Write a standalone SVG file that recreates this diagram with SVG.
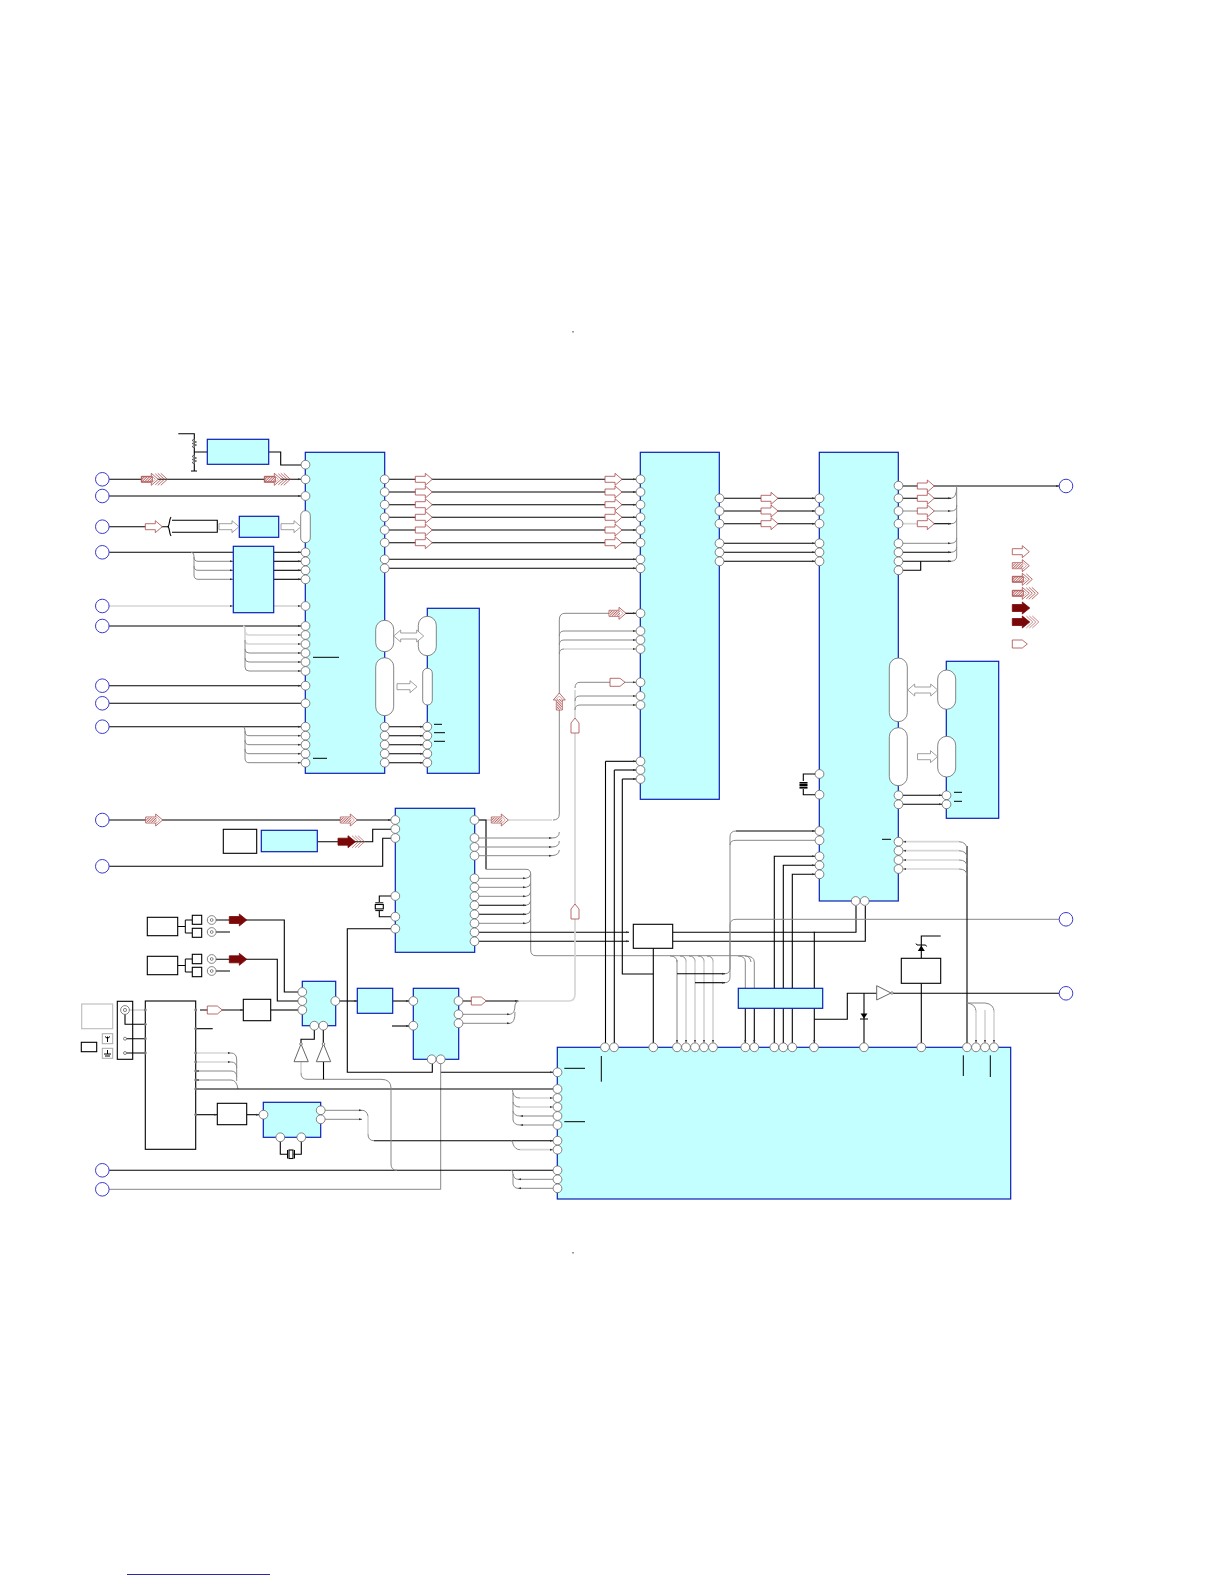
<svg xmlns="http://www.w3.org/2000/svg" width="1224" height="1584" viewBox="0 0 1224 1584">
<style>
.c{fill:#c4ffff;stroke:#0a1eb4;stroke-width:1.2}
.w{fill:#fff;stroke:#000;stroke-width:1.1}
.p{fill:#fff;stroke:#666;stroke-width:.8}
.o{fill:#fff;stroke:#3a3ad0;stroke-width:1}
.cap{fill:#fff;stroke:#666;stroke-width:.8}
.k,.g,.l{fill:none}
.k{stroke:#000;stroke-width:1.1}
.g{stroke:#888;stroke-width:1}
.l{stroke:#d6d6d6;stroke-width:1.7}
.b{stroke:#000;stroke-width:1;fill:none}
.m{marker-end:url(#t)}
.d{fill:#777}
text{font-family:"Liberation Sans",sans-serif}
</style>
<defs>
<marker id="t" markerWidth="3" markerHeight="3" refX="3" refY="1.5" orient="auto" markerUnits="userSpaceOnUse"><path d="M0 .5L3 1.5 0 2.5Z" fill="#333"/></marker>
<pattern id="h" width="1.8" height="1.8" patternUnits="userSpaceOnUse" patternTransform="rotate(45)"><rect width="1.8" height="1.8" fill="#fff"/><rect width=".9" height="1.8" fill="#b86a6a"/></pattern>
<path id="A" d="M0-3H10V-6L17 0 10 6V3H0Z" fill="#fff" stroke="#a84848" stroke-width=".8"/>
<path id="G" d="M0-3H13V-6L20 0 13 6V3H0Z" fill="#fff" stroke="#888" stroke-width=".8"/>
<path id="GD" d="M0 0L7-6V-3H23V-6L30 0 23 6V3H7V6Z" fill="#fff" stroke="#888" stroke-width=".8"/>
<g id="B"><use href="#A"/><rect x=".5" y="-2.5" width="10.5" height="5" fill="url(#h)"/><path d="M10.5-3.5L14 0 10.5 3.5" fill="none" stroke="#c08080" stroke-width=".7"/></g>
<g id="C" fill="none" stroke="#a84848" stroke-width=".8"><use href="#B"/><path d="M14-5.5L20 0 14 5.5"/></g>
<g id="D" fill="none" stroke="#a84848" stroke-width=".8"><use href="#B"/><path d="M14-5.5L20 0 14 5.5"/><path d="M16.5-6L23 0 16.5 6"/><path d="M19.5-6L26 0 19.5 6"/></g>
<path id="F" d="M0-3.5H10V-6L17.5 0 10 6V3.5H0Z" fill="#7a0808" stroke="#7a0808" stroke-width=".8"/>
<g id="E" fill="none" stroke="#b05858" stroke-width=".7"><use href="#F"/><path d="M14-6L20.5 0 14 6"/><path d="M17-6L23.5 0 17 6"/><path d="M20-6L26.5 0 20 6"/></g>
<path id="T" d="M0-4H10L15 0 10 4H0Z" fill="#fff" stroke="#a84848" stroke-width=".8"/>
</defs>

<g id="connectors">
<path class="k m" d="M109 479.3H301"/>
<path class="k m" d="M109 496H301"/>
<path class="k" d="M109 526.7H169"/>
<path class="k" d="M109 552.3H233"/>
<path class="g m" d="M191 552.3Q194 552.3 194 556V557Q194 561.3 198 561.3H233"/>
<path class="g m" d="M194 557V566Q194 570.3 198 570.3H233"/>
<path class="g m" d="M194 566V575Q194 579.3 198 579.3H233"/>
<path class="k m" d="M273.7 552.3H301"/><path class="k m" d="M273.7 561.3H301"/><path class="k m" d="M273.7 570.3H301"/><path class="k m" d="M273.7 579.3H301"/>
<path class="l m" d="M109 606H233"/><path class="l m" d="M273.7 606H301"/>
<path class="k m" d="M109 626H301"/>
<path class="l m" d="M243 626Q245 626 245 630Q245 635 249 635H301"/>
<path class="l m" d="M245 630V640Q245 644 249 644H301"/>
<path class="g m" d="M245 640V649Q245 653 249 653H301"/>
<path class="g m" d="M245 649V658Q245 662 249 662H301"/>
<path class="g m" d="M245 658V667Q245 671 249 671H301"/>
<path class="k m" d="M109 685.7H301"/>
<path class="k" d="M109 703.3H301"/>
<path class="k m" d="M109 726.7H301"/>
<path class="g m" d="M243 726.7Q245 726.7 245 731Q245 735.7 249 735.7H301"/>
<path class="g m" d="M245 731V740Q245 744.7 249 744.7H301"/>
<path class="g m" d="M245 740V749Q245 753.7 249 753.7H301"/>
<path class="g m" d="M245 749V758Q245 762.7 249 762.7H301"/>
<path class="k" d="M178.3 433.7H194.3V471M191 471H197M194.3 452H207.3M268.7 452H280.7V465H301"/>
<path class="k m" d="M389 479.3H636"/><path class="k m" d="M389 492H636"/><path class="k m" d="M389 504.7H636"/><path class="k m" d="M389 517.3H636"/><path class="k m" d="M389 530H636"/><path class="k m" d="M389 542.7H636"/><path class="k m" d="M389 559.3H636"/><path class="k m" d="M389 568.3H636"/>
<path class="k m" d="M389 726.7H423"/><path class="k m" d="M389 735.7H423"/><path class="k m" d="M389 744.7H423"/><path class="k m" d="M389 753.7H423"/><path class="k m" d="M389 762.7H423"/>
<path class="k m" d="M724 498.3H815"/><path class="k m" d="M724 511H815"/><path class="k m" d="M724 523.7H815"/><path class="k m" d="M724 543.3H815"/><path class="k m" d="M724 552.3H815"/><path class="k m" d="M724 561.3H815"/>
<path class="k m" d="M903 486H1059"/>
<path class="k m" d="M903 498.3H951"/><path class="g" d="M951 498.3Q956.7 498 956.7 486"/>
<path class="g m" d="M903 511H951"/><path class="g" d="M951 511Q956.7 511 956.7 506V488"/>
<path class="l" d="M903 523.7H925"/><path class="k m" d="M925 523.7H951"/><path class="g" d="M951 523.7Q956.7 523.7 956.7 518V505"/>
<path class="g m" d="M903 543.3H951"/><path class="g" d="M951 543.3Q956.7 543 956.7 538V518"/>
<path class="k m" d="M903 552.3H951"/><path class="g" d="M951 552.3Q956.7 552 956.7 547V538"/>
<path class="k m" d="M903 561.3H951"/><path class="g" d="M951 561.3Q956.7 561 956.7 556V547"/>
<path class="k" d="M903 570.3H920.7V561.3"/>
<path class="k m" d="M903 795.3H942"/><path class="k m" d="M903 804.3H942"/>
<path class="k m" d="M109 820H391"/>
<path class="k" d="M317.3 841.7H372.7V829.3H391"/>
<path class="k" d="M109 866.3H382.7V838.3H391"/>
<path class="k" d="M391 896H379.3V902M379.3 911V916.7H391"/>
<path class="k" d="M391 928.7H347.3V1072.3H432.3V1064"/>
<path class="k m" d="M440.7 1072.3H553"/>
<path class="g" d="M440.7 1189.3H109"/>
<path class="g" d="M440.7 1063V1189.3"/>
<path class="l" d="M479 820H552"/>
<path class="k" d="M479 820H486V869.3"/>
<path class="g" d="M553 820Q559.3 820 559.3 814V620Q559.3 613.3 565 613.3H620"/>
<path class="k m" d="M620 613.3H636"/>
<path class="g m" d="M559.3 636Q559.3 631 564 631H636"/><path class="g m" d="M559.3 645Q559.3 640 564 640H636"/>
<path class="g" d="M559.3 654Q559.3 649 564 649"/><path class="l m" d="M564 649H636"/>
<path class="g m" d="M479 838H552"/><path class="g" d="M552 838Q559.3 838 559.3 832"/>
<path class="g m" d="M479 847H552"/><path class="g" d="M552 847Q559.3 847 559.3 841"/>
<path class="g m" d="M479 855.7H552"/><path class="g" d="M552 855.7Q559.3 855 559.3 850"/>
<path class="g" d="M486 869.3H526Q530.7 869.3 530.7 874V950Q530.7 955.7 536 955.7H744Q750 955.7 751 962"/>
<path class="g m" d="M479 878.3H526"/><path class="g" d="M526 878.3Q530 878 530.7 874"/>
<path class="g m" d="M479 887.3H526"/><path class="g" d="M526 887.3Q530 887 530.7 883"/>
<path class="g m" d="M479 896.3H526"/><path class="g" d="M526 896.3Q530 896 530.7 892"/>
<path class="k m" d="M479 905.3H526"/><path class="g" d="M526 905.3Q530 905 530.7 901"/>
<path class="k m" d="M479 914.3H526"/><path class="g" d="M526 914.3Q530 914 530.7 910"/>
<path class="g m" d="M479 923.3H526"/><path class="g" d="M526 923.3Q530 923 530.7 919"/>
<path class="k m" d="M479 932.3H629"/>
<path class="k m" d="M479 941.3H629"/>
<path class="k" d="M672.7 932.3H856V906"/>
<path class="k" d="M672.7 941.3H865.3V906"/>
<path class="k m" d="M605.5 761.3H636"/><path class="k" d="M605.5 761.3V1043"/>
<path class="k m" d="M614.3 770H636"/><path class="k" d="M614.3 770V1043"/>
<path class="k m" d="M622.3 779H636"/><path class="k" d="M622.3 779V974H653.3"/>
<path class="k" d="M653.3 948.3V1043"/>
<path class="g" d="M670 956Q677 956 677 962"/><path class="g m" d="M677 960V1043"/>
<path class="g" d="M680 956Q686 956 686 962"/><path class="l m" d="M686 960V1043"/>
<path class="g" d="M689 956Q695 956 695 962"/><path class="l m" d="M695 960V1043"/>
<path class="g" d="M698 956Q704 956 704 962"/><path class="l m" d="M704 960V1043"/>
<path class="g" d="M707 956Q713 956 713 962"/><path class="l m" d="M713 960V1043"/>
<path class="g" d="M738 956Q745.3 956 745.3 962V988"/>
<path class="g" d="M745 956Q754.3 956 754.3 962V988"/>
<path class="k m" d="M745.3 1008V1043"/><path class="k m" d="M754.3 1008V1043"/>
<path class="k m" d="M774.3 1043V856.3H815"/>
<path class="k m" d="M783.3 1043V865.3H815"/>
<path class="k m" d="M792.3 1043V874.3H815"/>
<path class="k m" d="M814.3 1008V1043"/><path class="k" d="M814.3 988V931.7"/>
<path class="g" d="M725 973.7Q730 973.7 730 968V925Q730 919.3 736 919.3H1059"/>
<path class="k m" d="M677 973.7H725"/>
<path class="k m" d="M695 982.7H725"/>
<path class="g" d="M725 982.7Q730 982.7 730 977V845Q730 840.3 736 840.3H815"/>
<path class="k m" d="M736 831H815"/><path class="g" d="M736 831Q730 831 730 837V845"/>
<path class="k" d="M814.3 1019.3H847.3V993.3H876.7"/>
<path class="k" d="M864 993.3V1043"/>
<path class="k" d="M893 993.3H1059"/>
<path class="k" d="M921.3 983.3V1043"/>
<path class="k" d="M921.3 958.3V936H940.7"/>
<path class="k" d="M967 846V1043"/>
<path class="l m" d="M959 841.7H903"/><path class="g" d="M959 841.7Q967 842 967 850"/>
<path class="l m" d="M959 850.7H903"/><path class="g" d="M959 850.7Q967 851 967 858"/>
<path class="l m" d="M959 860H903"/><path class="g" d="M959 860Q967 860 967 867"/>
<path class="l m" d="M959 869H903"/><path class="g" d="M959 869Q967 869 967 876"/>
<path class="g" d="M967 1003Q976 1004 976 1012M967 1003H985Q994 1004 994 1012"/>
<path class="l m" d="M976 1010V1043"/><path class="l m" d="M985 1010V1043"/><path class="l m" d="M994 1010V1043"/>
<path class="l" d="M518 1001H569Q575 1001 575 994"/><path class="l" d="M575 994V690"/>
<path class="g m" d="M575 688Q575 682.3 580 682.3H636"/>
<path class="g m" d="M575 701Q575 696 580 696H636"/><path class="g m" d="M575 710Q575 705 580 705H636"/>
<path class="k m" d="M463 1001H518"/>
<path class="g m" d="M463 1014.3H510"/><path class="g" d="M510 1014.3Q515 1014 515 1005Q516 1001 519 1001"/>
<path class="g m" d="M463 1023.3H510"/><path class="g" d="M510 1023.3Q515 1023 515 1012"/>
<path class="k m" d="M392 1026H409"/>
<path class="k m" d="M335.7 1001H357.3"/><path class="k m" d="M392.7 1001H409"/>
<path class="k" d="M216 920H284.3V992H298"/>
<path class="k" d="M216 959.3H277.3V1001H298"/>
<path class="k" d="M216 932H230M216 971H230"/>
<path class="b" d="M177.7 926.5H185.3M185.3 920V933M185.3 920H192.3M185.3 933H192.3M177.7 965.5H185.3M185.3 959V972M185.3 959H192.3M185.3 972H192.3"/>
<path class="k m" d="M200 1010H243.3"/>
<path class="k" d="M270.7 1010H298"/>
<path class="k" d="M195.7 1028.7H212.7"/>
<path class="l m" d="M195.7 1053H231"/><path class="g" d="M231 1053Q236.7 1053 236.7 1060V1081"/>
<path class="l m" d="M195.7 1062H231"/><path class="g" d="M231 1062Q236.7 1062 236.7 1068"/>
<path class="g m" d="M231 1071H195.7"/><path class="g" d="M231 1071Q236.7 1071 236.7 1077"/>
<path class="g m" d="M231 1080H195.7"/><path class="g" d="M231 1080Q236.7 1080 238 1089"/>
<path class="k" d="M195.7 1089H511"/>
<path class="k m" d="M195.7 1114.7H217.3"/>
<path class="k m" d="M246.7 1114.7H259"/>
<path class="g m" d="M324 1110.3H362"/><path class="g" d="M362 1110.3Q366.7 1110.3 368 1116"/>
<path class="g m" d="M324 1119.3H362"/><path class="l" d="M368 1116V1134"/><path class="g" d="M368 1134Q368 1140.7 374 1140.7"/>
<path class="k m" d="M374 1140.7H553"/>
<path class="g" d="M511 1140.7Q513 1140.7 513 1144Q515 1149.7 520 1149.7"/><path class="l m" d="M520 1149.7H553"/>
<path class="k" d="M511 1089H553"/>
<path class="l m" d="M520 1098H553"/><path class="g" d="M511 1089Q513 1089 513 1093Q514 1098 520 1098"/>
<path class="l m" d="M520 1107H553"/><path class="g" d="M513 1093V1102Q514 1107 520 1107"/>
<path class="g m" d="M553 1116H520"/><path class="g" d="M513 1102V1111Q514 1116 520 1116"/>
<path class="g m" d="M553 1125H520"/><path class="g" d="M513 1111V1120Q514 1125 520 1125"/>
<path class="k" d="M109 1170.3H553"/>
<path class="g m" d="M553 1179.3H518"/><path class="g" d="M511 1170.3Q513 1170.3 513 1174Q514 1179.3 518 1179.3"/>
<path class="g m" d="M553 1188.3H518"/><path class="g" d="M513 1174V1184Q514 1188.3 518 1188.3"/>
<path class="l" d="M301 1062V1073"/><path class="g" d="M301 1073Q301 1079.3 307 1079.3H381Q391 1079.3 391 1088V1164Q391 1170.3 397 1170.3"/>
<path class="k" d="M323.5 1062V1079.3"/>
<path class="k" d="M314.3 1030V1039.3H301V1044"/>
<path class="k" d="M323.3 1030V1044"/>
<path class="k" d="M280.3 1137.3V1154.3H287M293.5 1154.3H301.3V1137.3"/>
<path class="l" d="M125 1010H145.3"/>
<path class="k" d="M125 1013V1024.3H145.3M125 1038.7H145.3M125 1053H145.3"/>
</g>

<g id="resistors"><path d="M194.3 439L192 440.5 196.6 442 192 443.5 196.6 445 192 446.5 194.3 448M194.3 455L192 456.5 196.6 458 192 459.5 196.6 461 192 462.5 194.3 464" fill="#fff" stroke="#555" stroke-width=".9"/></g>

<g id="u1"><rect class="c" x="305.3" y="452.3" width="79.4" height="321"/>
<g id="u1-pins"><circle class="p" cx="305.5" cy="464.7" r="4.4"/><circle class="p" cx="305.5" cy="479.3" r="4.4"/><circle class="p" cx="305.5" cy="496" r="4.4"/><circle class="p" cx="305.5" cy="552.3" r="4.4"/><circle class="p" cx="305.5" cy="561.3" r="4.4"/><circle class="p" cx="305.5" cy="570.3" r="4.4"/><circle class="p" cx="305.5" cy="579.3" r="4.4"/><circle class="p" cx="305.5" cy="606" r="4.4"/><circle class="p" cx="305.5" cy="626" r="4.4"/><circle class="p" cx="305.5" cy="635" r="4.4"/><circle class="p" cx="305.5" cy="644" r="4.4"/><circle class="p" cx="305.5" cy="653" r="4.4"/><circle class="p" cx="305.5" cy="662" r="4.4"/><circle class="p" cx="305.5" cy="671" r="4.4"/><circle class="p" cx="305.5" cy="685.7" r="4.4"/><circle class="p" cx="305.5" cy="703.3" r="4.4"/><circle class="p" cx="305.5" cy="726.7" r="4.4"/><circle class="p" cx="305.5" cy="735.7" r="4.4"/><circle class="p" cx="305.5" cy="744.7" r="4.4"/><circle class="p" cx="305.5" cy="753.7" r="4.4"/><circle class="p" cx="305.5" cy="762.7" r="4.4"/>
<circle class="p" cx="384.7" cy="479.3" r="4.4"/><circle class="p" cx="384.7" cy="492" r="4.4"/><circle class="p" cx="384.7" cy="504.7" r="4.4"/><circle class="p" cx="384.7" cy="517.3" r="4.4"/><circle class="p" cx="384.7" cy="530" r="4.4"/><circle class="p" cx="384.7" cy="542.7" r="4.4"/><circle class="p" cx="384.7" cy="559.3" r="4.4"/><circle class="p" cx="384.7" cy="568.3" r="4.4"/><circle class="p" cx="384.7" cy="726.7" r="4.4"/><circle class="p" cx="384.7" cy="735.7" r="4.4"/><circle class="p" cx="384.7" cy="744.7" r="4.4"/><circle class="p" cx="384.7" cy="753.7" r="4.4"/><circle class="p" cx="384.7" cy="762.7" r="4.4"/></g>
<rect class="cap" x="300.7" y="510.7" width="9.6" height="32" rx="4.8"/>
<rect class="cap" x="375.7" y="620.3" width="18" height="31.4" rx="9"/>
<rect class="cap" x="375.7" y="657.7" width="18" height="58" rx="9"/>
<path class="b" d="M313 657.3H339M313 758.3H327"/></g>

<g id="u1b"><rect class="c" x="207.3" y="439.3" width="61.4" height="25"/></g>
<g id="u1c"><path class="w" d="M172 520.3H217.3V532.3H172"/><path class="k" d="M171 517C169 520 170 524 168 526.7C170 529 169 533 171 536"/></g>
<g id="u1d"><rect class="c" x="239.3" y="516.3" width="39.4" height="21"/></g>
<g id="u1e"><rect class="c" x="233.3" y="546.3" width="40.4" height="66.4"/></g>
<g id="u1f"><rect class="c" x="427.3" y="608.3" width="52" height="165"/>
<rect class="cap" x="418.3" y="616.3" width="18" height="39.4" rx="9"/>
<rect class="cap" x="422.7" y="668.3" width="9.6" height="36.7" rx="4.8"/>
<circle class="p" cx="427.3" cy="726.7" r="4.4"/><circle class="p" cx="427.3" cy="735.7" r="4.4"/><circle class="p" cx="427.3" cy="744.7" r="4.4"/><circle class="p" cx="427.3" cy="753.7" r="4.4"/><circle class="p" cx="427.3" cy="762.7" r="4.4"/>
<path class="b" d="M434 724.3H442M434 732.7H445M434 741.3H445"/></g>

<g id="u3"><rect class="c" x="640.3" y="452.3" width="79" height="347"/>
<circle class="p" cx="640.5" cy="479.3" r="4.4"/><circle class="p" cx="640.5" cy="492" r="4.4"/><circle class="p" cx="640.5" cy="504.7" r="4.4"/><circle class="p" cx="640.5" cy="517.3" r="4.4"/><circle class="p" cx="640.5" cy="530" r="4.4"/><circle class="p" cx="640.5" cy="542.7" r="4.4"/><circle class="p" cx="640.5" cy="559.3" r="4.4"/><circle class="p" cx="640.5" cy="568.3" r="4.4"/><circle class="p" cx="640.5" cy="613.3" r="4.4"/><circle class="p" cx="640.5" cy="631" r="4.4"/><circle class="p" cx="640.5" cy="640" r="4.4"/><circle class="p" cx="640.5" cy="649" r="4.4"/><circle class="p" cx="640.5" cy="682.3" r="4.4"/><circle class="p" cx="640.5" cy="696" r="4.4"/><circle class="p" cx="640.5" cy="705" r="4.4"/><circle class="p" cx="640.5" cy="761.3" r="4.4"/><circle class="p" cx="640.5" cy="770" r="4.4"/><circle class="p" cx="640.5" cy="779" r="4.4"/>
<circle class="p" cx="719.5" cy="498.3" r="4.4"/><circle class="p" cx="719.5" cy="511" r="4.4"/><circle class="p" cx="719.5" cy="523.7" r="4.4"/><circle class="p" cx="719.5" cy="543.3" r="4.4"/><circle class="p" cx="719.5" cy="552.3" r="4.4"/><circle class="p" cx="719.5" cy="561.3" r="4.4"/></g>

<g id="u4"><rect class="c" x="819.3" y="452.3" width="79" height="448.7"/>
<circle class="p" cx="819.5" cy="498.3" r="4.4"/><circle class="p" cx="819.5" cy="511" r="4.4"/><circle class="p" cx="819.5" cy="523.7" r="4.4"/><circle class="p" cx="819.5" cy="543.3" r="4.4"/><circle class="p" cx="819.5" cy="552.3" r="4.4"/><circle class="p" cx="819.5" cy="561.3" r="4.4"/><circle class="p" cx="819.5" cy="774" r="4.4"/><circle class="p" cx="819.5" cy="794.7" r="4.4"/><circle class="p" cx="819.5" cy="831" r="4.4"/><circle class="p" cx="819.5" cy="840.3" r="4.4"/><circle class="p" cx="819.5" cy="856.3" r="4.4"/><circle class="p" cx="819.5" cy="865.3" r="4.4"/><circle class="p" cx="819.5" cy="874.3" r="4.4"/>
<circle class="p" cx="898.5" cy="485.7" r="4.4"/><circle class="p" cx="898.5" cy="498.3" r="4.4"/><circle class="p" cx="898.5" cy="511" r="4.4"/><circle class="p" cx="898.5" cy="523.7" r="4.4"/><circle class="p" cx="898.5" cy="543.3" r="4.4"/><circle class="p" cx="898.5" cy="552.3" r="4.4"/><circle class="p" cx="898.5" cy="561.3" r="4.4"/><circle class="p" cx="898.5" cy="570.3" r="4.4"/><circle class="p" cx="898.5" cy="795.3" r="4.4"/><circle class="p" cx="898.5" cy="804.3" r="4.4"/><circle class="p" cx="898.5" cy="841.7" r="4.4"/><circle class="p" cx="898.5" cy="850.7" r="4.4"/><circle class="p" cx="898.5" cy="860" r="4.4"/><circle class="p" cx="898.5" cy="869" r="4.4"/>
<circle class="p" cx="855.7" cy="901" r="4.4"/><circle class="p" cx="864.7" cy="901" r="4.4"/>
<rect class="cap" x="889.3" y="658" width="18" height="63.7" rx="9"/>
<rect class="cap" x="889.3" y="727.7" width="18" height="58" rx="9"/>
<path class="b" d="M882 839.3H891"/>
<path class="k" d="M815 774H803.3V781M803.3 789V794.7H815"/><rect x="799.5" y="782" width="8" height="1.6" fill="#000"/><rect x="799.5" y="784" width="8" height="2.4" fill="#000"/><rect x="799.5" y="787" width="8" height="1.6" fill="#000"/></g>

<g id="u4b"><rect class="c" x="946.3" y="661.3" width="52.4" height="157"/>
<rect class="cap" x="937.7" y="670" width="18" height="39.3" rx="9"/>
<rect class="cap" x="937.7" y="736.3" width="18" height="40.7" rx="9"/>
<circle class="p" cx="946.5" cy="795.3" r="4.4"/><circle class="p" cx="946.5" cy="804.3" r="4.4"/>
<path class="b" d="M954 792.3H962M954 801.3H962"/></g>

<g id="u2"><rect class="c" x="395.3" y="808.3" width="79.4" height="144"/>
<circle class="p" cx="395.3" cy="820" r="4.4"/><circle class="p" cx="395.3" cy="829" r="4.4"/><circle class="p" cx="395.3" cy="838" r="4.4"/><circle class="p" cx="395.3" cy="896" r="4.4"/><circle class="p" cx="395.3" cy="916.7" r="4.4"/><circle class="p" cx="395.3" cy="928.7" r="4.4"/>
<circle class="p" cx="474.5" cy="820" r="4.4"/><circle class="p" cx="474.5" cy="838" r="4.4"/><circle class="p" cx="474.5" cy="847" r="4.4"/><circle class="p" cx="474.5" cy="855.7" r="4.4"/><circle class="p" cx="474.5" cy="878.3" r="4.4"/><circle class="p" cx="474.5" cy="887.3" r="4.4"/><circle class="p" cx="474.5" cy="896.3" r="4.4"/><circle class="p" cx="474.5" cy="905.3" r="4.4"/><circle class="p" cx="474.5" cy="914.3" r="4.4"/><circle class="p" cx="474.5" cy="923.3" r="4.4"/><circle class="p" cx="474.5" cy="932.3" r="4.4"/><circle class="p" cx="474.5" cy="941.3" r="4.4"/>
<rect class="w" x="375.3" y="904.5" width="8" height="4.4"/><path class="b" d="M375.3 902.8H383.3M375.3 910.6H383.3"/></g>
<g id="u2b"><rect class="w" x="223.3" y="829.3" width="33.4" height="24"/></g>
<g id="u2c"><rect class="c" x="261.3" y="830.3" width="56" height="21.4"/></g>

<g id="sw1"><rect class="w" x="147.3" y="917.3" width="30.4" height="18.4"/><rect class="w" x="192.3" y="915.3" width="9.4" height="9"/><rect class="w" x="192.3" y="928.3" width="9.4" height="9"/></g>
<g id="sw2"><rect class="w" x="147.3" y="956.3" width="30.4" height="18.4"/><rect class="w" x="192.3" y="954.3" width="9.4" height="9.4"/><rect class="w" x="192.3" y="967.3" width="9.4" height="9.4"/></g>
<g id="jacks"><circle class="p" cx="211.7" cy="920" r="4.4"/><circle class="p" cx="211.7" cy="920" r="1.4"/><circle class="p" cx="211.7" cy="932" r="4.4"/><circle class="p" cx="211.7" cy="932" r="1.4"/><circle class="p" cx="211.7" cy="959" r="4.4"/><circle class="p" cx="211.7" cy="959" r="1.4"/><circle class="p" cx="211.7" cy="971" r="4.4"/><circle class="p" cx="211.7" cy="971" r="1.4"/></g>

<g id="u5"><rect class="c" x="302.3" y="981.3" width="33.4" height="44.4"/>
<circle class="p" cx="302.3" cy="992" r="4.4"/><circle class="p" cx="302.3" cy="1001" r="4.4"/><circle class="p" cx="302.3" cy="1010" r="4.4"/><circle class="p" cx="335.3" cy="1001" r="4.4"/><circle class="p" cx="314.3" cy="1025.7" r="4.4"/><circle class="p" cx="323.3" cy="1025.7" r="4.4"/></g>
<g id="buf1"><path d="M301 1044L294 1061.7H308.3Z" fill="#fff" stroke="#666"/><circle class="p" cx="301" cy="1044" r="1.3"/></g>
<g id="buf2"><path d="M323.5 1044L316.3 1061.7H330.7Z" fill="#fff" stroke="#666"/><circle class="p" cx="323.5" cy="1044" r="1.3"/></g>
<g id="u6"><rect class="c" x="357.3" y="988.3" width="35.4" height="25"/></g>
<g id="u7"><rect class="c" x="413.3" y="988.3" width="45.4" height="71"/>
<circle class="p" cx="413.3" cy="1001" r="4.4"/><circle class="p" cx="413.3" cy="1025.7" r="4.4"/><circle class="p" cx="458.5" cy="1001" r="4.4"/><circle class="p" cx="458.5" cy="1014.3" r="4.4"/><circle class="p" cx="458.5" cy="1023.3" r="4.4"/><circle class="p" cx="431.7" cy="1059.3" r="4.4"/><circle class="p" cx="440.7" cy="1059.3" r="4.4"/></g>
<g id="u8"><rect class="w" x="243.3" y="999.3" width="27.4" height="21.4"/></g>
<g id="tuner"><rect class="w" x="145.3" y="1001" width="50.4" height="148.3"/>
<circle class="d" cx="195.7" cy="1010" r="1.4"/><circle class="d" cx="195.7" cy="1028.7" r="1.4"/><circle class="d" cx="195.7" cy="1053" r="1.4"/><circle class="d" cx="195.7" cy="1062" r="1.4"/><circle class="d" cx="195.7" cy="1071" r="1.4"/><circle class="d" cx="195.7" cy="1080" r="1.4"/><circle class="d" cx="195.7" cy="1089" r="1.4"/><circle class="d" cx="195.7" cy="1114.7" r="1.4"/>
<circle class="d" cx="145.3" cy="1010" r="1.4"/><circle class="d" cx="145.3" cy="1024.3" r="1.4"/><circle class="d" cx="145.3" cy="1038.7" r="1.4"/><circle class="d" cx="145.3" cy="1053" r="1.4"/></g>
<g id="panel"><rect class="w" x="117.3" y="1001.3" width="15.4" height="58" fill-opacity="0"/>
<circle class="p" cx="125" cy="1010" r="4.4"/><circle class="p" cx="125" cy="1010" r="1.6"/><circle class="p" cx="125" cy="1038.7" r="1.5"/><circle class="p" cx="125" cy="1053" r="1.5"/></g>
<g id="ant"><rect x="81.7" y="1004" width="31" height="24.7" fill="#fff" stroke="#bbb" stroke-width="1.1"/><rect class="w" x="81.3" y="1042.3" width="15.4" height="9.4"/>
<rect x="102.3" y="1033.7" width="10.4" height="10" fill="#fff" stroke="#aaa"/><path class="b" d="M105 1036.5L107.5 1038.5 110 1036.5M107.5 1036.5V1042"/>
<rect x="102.3" y="1048.3" width="10.4" height="10" fill="#fff" stroke="#aaa"/><path class="b" d="M107.5 1050V1054M104 1054H111M105 1056H110"/></g>
<g id="u9"><rect class="w" x="217.3" y="1103.3" width="29.4" height="21.4"/></g>
<g id="u10"><rect class="c" x="263.3" y="1102.3" width="57.4" height="35"/>
<circle class="p" cx="263.5" cy="1114.7" r="4.4"/><circle class="p" cx="320.7" cy="1110.3" r="4.4"/><circle class="p" cx="320.7" cy="1119.3" r="4.4"/><circle class="p" cx="280.3" cy="1137.3" r="4.4"/><circle class="p" cx="301.3" cy="1137.3" r="4.4"/>
<rect class="w" x="289" y="1150" width="4" height="8.5"/><path class="b" d="M287.5 1150V1158.5M294.5 1150V1158.5"/></g>

<g id="mcu"><rect class="c" x="557.3" y="1047.3" width="453.4" height="151.7"/>
<circle class="p" cx="557.5" cy="1072.3" r="4.4"/><circle class="p" cx="557.5" cy="1089" r="4.4"/><circle class="p" cx="557.5" cy="1098" r="4.4"/><circle class="p" cx="557.5" cy="1107" r="4.4"/><circle class="p" cx="557.5" cy="1116" r="4.4"/><circle class="p" cx="557.5" cy="1125" r="4.4"/><circle class="p" cx="557.5" cy="1140.7" r="4.4"/><circle class="p" cx="557.5" cy="1149.7" r="4.4"/><circle class="p" cx="557.5" cy="1170.3" r="4.4"/><circle class="p" cx="557.5" cy="1179.3" r="4.4"/><circle class="p" cx="557.5" cy="1188.3" r="4.4"/>
<circle class="p" cx="605" cy="1047.3" r="4.4"/><circle class="p" cx="614" cy="1047.3" r="4.4"/><circle class="p" cx="653.3" cy="1047.3" r="4.4"/><circle class="p" cx="677" cy="1047.3" r="4.4"/><circle class="p" cx="686" cy="1047.3" r="4.4"/><circle class="p" cx="695" cy="1047.3" r="4.4"/><circle class="p" cx="704" cy="1047.3" r="4.4"/><circle class="p" cx="713" cy="1047.3" r="4.4"/><circle class="p" cx="745.3" cy="1047.3" r="4.4"/><circle class="p" cx="754.3" cy="1047.3" r="4.4"/><circle class="p" cx="774.3" cy="1047.3" r="4.4"/><circle class="p" cx="783.3" cy="1047.3" r="4.4"/><circle class="p" cx="792.3" cy="1047.3" r="4.4"/><circle class="p" cx="814" cy="1047.3" r="4.4"/><circle class="p" cx="864" cy="1047.3" r="4.4"/><circle class="p" cx="921.3" cy="1047.3" r="4.4"/><circle class="p" cx="967" cy="1047.3" r="4.4"/><circle class="p" cx="976" cy="1047.3" r="4.4"/><circle class="p" cx="985" cy="1047.3" r="4.4"/><circle class="p" cx="994" cy="1047.3" r="4.4"/>
<path class="b" d="M564.3 1068.3H585M564.3 1121.7H585M601.3 1056V1081.7M963.3 1055.3V1076M990.3 1055.3V1077"/></g>

<g id="u11"><rect class="w" x="633.3" y="924.3" width="39.4" height="24"/></g>
<g id="u12"><rect class="c" x="738.3" y="988.3" width="84.4" height="20"/></g>
<g id="u13"><rect class="w" x="901.3" y="958.3" width="39.4" height="25"/></g>
<g id="buffer"><path d="M876.7 985.7V1000L891 993Z" fill="#fff" stroke="#666"/><circle class="p" cx="892" cy="993" r="1.2"/></g>
<g id="d1"><path d="M860.5 1013.5H867.5L864 1018.5Z" fill="#000"/><path class="b" d="M860 1019H868"/></g>
<g id="d2"><path d="M917.8 951H924.8L921.3 945.5Z" fill="#000"/><path class="b" d="M917 945H925.6M917 945L916 943.5M925.6 945L926.6 946.5"/></g>

<g id="offpage">
<circle class="o" cx="102.3" cy="479.3" r="6.8"/><circle class="o" cx="102.3" cy="496" r="6.8"/><circle class="o" cx="102.3" cy="526.7" r="6.8"/><circle class="o" cx="102.3" cy="552.3" r="6.8"/><circle class="o" cx="102.3" cy="606" r="6.8"/><circle class="o" cx="102.3" cy="626" r="6.8"/><circle class="o" cx="102.3" cy="685.7" r="6.8"/><circle class="o" cx="102.3" cy="703.3" r="6.8"/><circle class="o" cx="102.3" cy="726.7" r="6.8"/><circle class="o" cx="102.3" cy="820" r="6.8"/><circle class="o" cx="102.3" cy="866.3" r="6.8"/><circle class="o" cx="102.3" cy="1170.3" r="6.8"/><circle class="o" cx="102.3" cy="1189.3" r="6.8"/>
<circle class="o" cx="1066" cy="486" r="6.8"/><circle class="o" cx="1066" cy="919.3" r="6.8"/><circle class="o" cx="1066" cy="993.3" r="6.8"/></g>

<g id="arrows">
<use href="#D" x="141.3" y="479.3"/><use href="#D" x="264.3" y="479.3"/>
<use href="#A" x="145.3" y="526.7"/><use href="#G" x="219" y="526.7"/><use href="#G" x="281" y="526.7"/>
<use href="#A" x="415.3" y="479.3"/><use href="#A" x="415.3" y="492"/><use href="#A" x="415.3" y="504.7"/><use href="#A" x="415.3" y="517.3"/><use href="#A" x="415.3" y="530"/><use href="#A" x="415.3" y="542.7"/>
<use href="#A" x="605" y="479.3"/><use href="#A" x="605" y="492"/><use href="#A" x="605" y="504.7"/><use href="#A" x="605" y="517.3"/><use href="#A" x="605" y="530"/><use href="#A" x="605" y="542.7"/>
<use href="#A" x="761" y="498.3"/><use href="#A" x="761" y="511"/><use href="#A" x="761" y="523.7"/>
<use href="#A" x="917.3" y="486"/><use href="#A" x="917.3" y="498.3"/><use href="#A" x="917.3" y="511"/><use href="#A" x="917.3" y="523.7"/>
<use href="#GD" x="393.7" y="636"/><use href="#G" x="397" y="686.7"/>
<use href="#GD" x="907.7" y="690"/><use href="#G" x="917.5" y="756.7"/>
<use href="#B" x="145.7" y="820"/><use href="#B" x="340.3" y="820"/><use href="#E" x="338" y="841.7"/><use href="#B" x="491.3" y="820"/>
<use href="#B" x="609" y="613.3"/><use href="#T" x="610" y="682.3"/>
<use href="#B" transform="translate(559.3 710) rotate(-90)"/><use href="#T" transform="translate(575 733) rotate(-90)"/><use href="#T" transform="translate(575 919) rotate(-90)"/>
<use href="#F" x="229.3" y="920"/><use href="#F" x="229.3" y="959.3"/>
<use href="#T" x="207.3" y="1010"/><use href="#T" x="471.3" y="1001"/>
</g>

<g id="legend">
<use href="#A" x="1012.3" y="551.7"/><use href="#B" x="1012.3" y="565.7"/><use href="#C" x="1012.3" y="579.3"/><use href="#D" x="1012.3" y="593.3"/><use href="#F" x="1012.3" y="608"/><use href="#E" x="1012.3" y="622"/><use href="#T" x="1012.3" y="644"/>
</g>
<path d="M127 1574.5H270" stroke="#2a2aa8" stroke-width="1" fill="none"/>
<path d="M573 331v1.4M573 1252v1.4" stroke="#555" stroke-width="1.2" fill="none"/>
</svg>
